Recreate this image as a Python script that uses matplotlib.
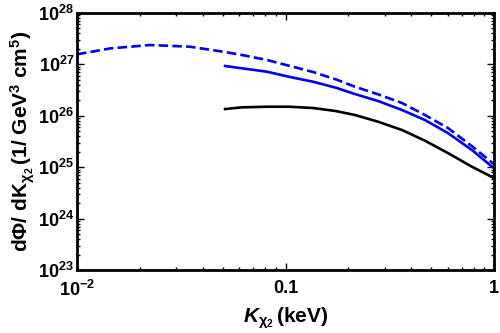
import numpy as np
import matplotlib
matplotlib.use("Agg")
import matplotlib.pyplot as plt
from matplotlib.ticker import LogLocator, FixedLocator, FixedFormatter, NullFormatter

plt.rcParams['font.family'] = ['Liberation Sans', 'DejaVu Sans']
plt.rcParams['font.weight'] = 'bold'
plt.rcParams['axes.labelweight'] = 'bold'
plt.rcParams['mathtext.fontset'] = 'custom'
plt.rcParams['mathtext.rm'] = 'Liberation Sans:bold'
plt.rcParams['mathtext.bf'] = 'Liberation Sans:bold'
plt.rcParams['mathtext.it'] = 'Liberation Sans:bold:italic'
plt.rcParams['mathtext.default'] = 'bf'

# log10 of kinetic energy (keV) and log10 of flux
logk_dashed = [-2.000, -1.842, -1.650, -1.458, -1.290, -1.209, -1.089, -0.984,
               -0.868, -0.759, -0.667, -0.556, -0.441, -0.331, -0.221, -0.106, 0.0]
logf_dashed = [27.196, 27.31, 27.377, 27.344, 27.241, 27.183, 27.086, 26.975,
               26.852, 26.71, 26.566, 26.418, 26.249, 26.016, 25.763, 25.41, 25.06]

logk_blue = [-1.290, -1.209, -1.089, -0.984, -0.868, -0.759, -0.667, -0.556,
             -0.441, -0.331, -0.221, -0.106, 0.0]
logf_blue = [26.969, 26.924, 26.858, 26.76, 26.663, 26.547, 26.424, 26.288,
             26.113, 25.918, 25.665, 25.335, 24.98]

logk_black = [-1.290, -1.209, -1.089, -0.984, -0.868, -0.759, -0.667, -0.556,
              -0.441, -0.331, -0.221, -0.106, 0.0]
logf_black = [26.132, 26.165, 26.177, 26.177, 26.152, 26.093, 26.016, 25.885,
              25.724, 25.516, 25.276, 25.01, 24.79]

fig = plt.figure(figsize=(5, 3.33), dpi=100)
ax = fig.add_axes([0.154, 0.189, 0.834, 0.772])

ax.plot(10 ** np.array(logk_dashed), 10 ** np.array(logf_dashed),
        color='#0000ee', lw=1.9, ls=(0, (3.6, 1.6)))
ax.plot(10 ** np.array(logk_blue), 10 ** np.array(logf_blue),
        color='#0000ee', lw=1.9)
ax.plot(10 ** np.array(logk_black), 10 ** np.array(logf_black),
        color='black', lw=1.9)

ax.set_xscale('log')
ax.set_yscale('log')
ax.set_xlim(1e-2, 1)
ax.set_ylim(1e23, 1e28)

ax.xaxis.set_major_locator(FixedLocator([1e-2, 1e-1, 1]))
ax.xaxis.set_major_formatter(FixedFormatter([r'10$^{-2}$', '0.1', '1']))
ax.xaxis.set_minor_locator(LogLocator(base=10, subs=np.arange(2, 10)))
ax.xaxis.set_minor_formatter(NullFormatter())

yt = [10.0 ** e for e in range(23, 29)]
ax.yaxis.set_major_locator(FixedLocator(yt))
ax.yaxis.set_major_formatter(FixedFormatter([r'10$^{%d}$' % e for e in range(23, 29)]))
ax.yaxis.set_minor_locator(LogLocator(base=10, subs=np.arange(2, 10)))
ax.yaxis.set_minor_formatter(NullFormatter())

ax.tick_params(which='both', direction='in', top=True, right=True, width=1.0)
ax.tick_params(which='major', length=5, labelsize=13)
ax.tick_params(axis='x', which='major', pad=7)
ax.tick_params(axis='y', which='major', pad=2)
ax.tick_params(which='minor', length=2.5)
for s in ax.spines.values():
    s.set_linewidth(2.0)

ax.set_xlabel(r'$\mathit{K}_{\chi_2}\,$(keV)', fontsize=15, labelpad=4)
ax.set_ylabel(r'd$\Phi$/ dK$_{\chi_2}\,$(1/ GeV$^3$ cm$^5$)', fontsize=15, labelpad=1)

fig.savefig('out.png', dpi=100)
